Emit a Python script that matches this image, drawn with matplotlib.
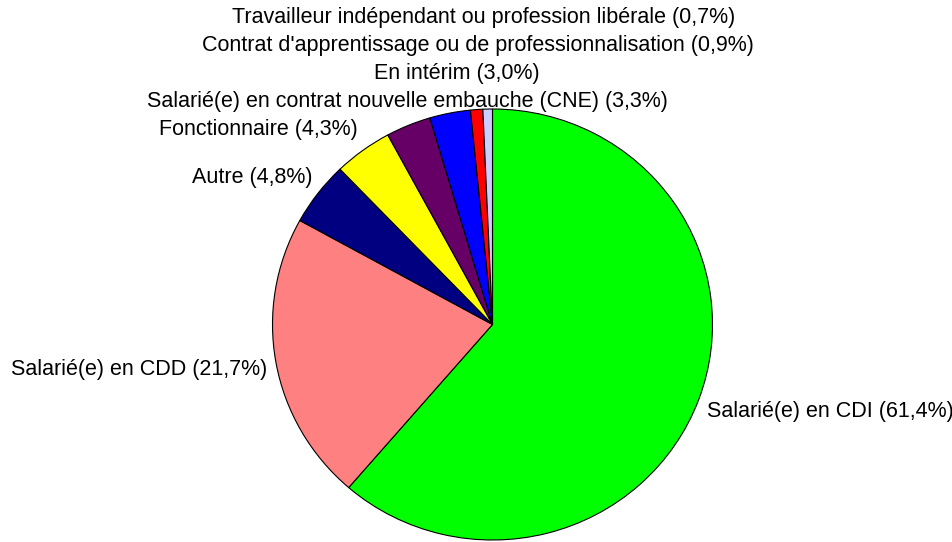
import matplotlib.pyplot as plt

plt.rcParams["font.family"] = ["Liberation Sans", "DejaVu Sans"]

categories = [
    "Salarié(e) en CDI",
    "Salarié(e) en CDD",
    "Autre",
    "Fonctionnaire",
    "Salarié(e) en contrat nouvelle embauche (CNE)",
    "En intérim",
    "Contrat d'apprentissage ou de professionnalisation",
    "Travailleur indépendant ou profession libérale",
]
shares = [61.4, 21.7, 4.8, 4.3, 3.3, 3.0, 0.9, 0.7]
colors = ["#00FF00", "#FF8080", "#000080", "#FFFF00",
          "#660066", "#0000FF", "#FF0000", "#CCCCFF"]

# label anchors in pixels (x, y from top, alignment)
label_pos = [
    (707, 412, "left"),
    (267, 370, "right"),
    (312, 178, "right"),
    (358, 130, "right"),
    (407, 102, "center"),
    (457, 74, "center"),
    (478, 45, "center"),
    (484, 17, "center"),
]

W, H = 953, 542
fig = plt.figure(figsize=(W / 100, H / 100), dpi=100)

# pie is slightly squashed vertically in the original
cx, cy, rx, ry = 492.5, 324.5, 220, 215.5
ax = fig.add_axes([(cx - rx) / W, (H - cy - ry) / H, 2 * rx / W, 2 * ry / H])
ax.pie(shares, colors=colors, startangle=90, counterclock=False,
       wedgeprops={"edgecolor": "black", "linewidth": 0.8})
ax.set_aspect("auto")
ax.set_xlim(-1, 1)
ax.set_ylim(-1, 1)
ax.axis("off")

for name, val, (x, y, ha) in zip(categories, shares, label_pos):
    txt = f"{name} ({val:.1f}%)".replace(".", ",")
    fig.text(x / W, 1 - y / H, txt, ha=ha, va="center", fontsize=15.5)

fig.savefig("out.png", dpi=100)
plt.close()
